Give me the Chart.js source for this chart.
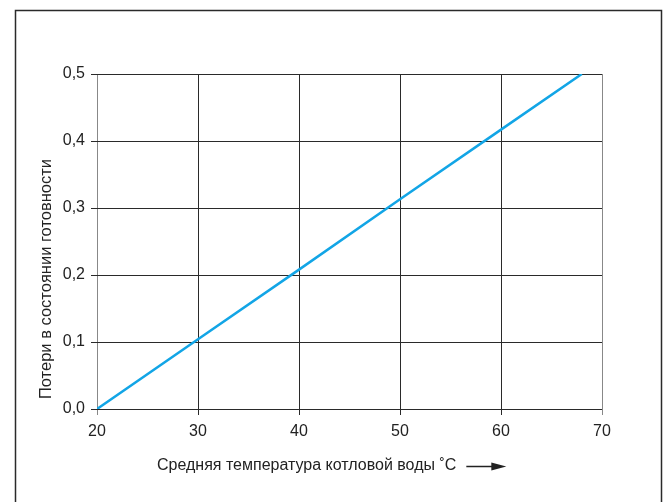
<!DOCTYPE html>
<html><head><meta charset="utf-8">
<script src="https://cdn.jsdelivr.net/npm/chart.js@4/dist/chart.umd.min.js"></script>
<style>html,body{margin:0;padding:0;background:#fff}#wrap{width:665px;height:502px}</style>
</head><body><div id="wrap"><canvas id="c" width="665" height="502"></canvas></div>
<script>
const temperatures = [20, 30, 40, 50, 60, 68];
const losses = [0, 0.104, 0.208, 0.313, 0.417, 0.5];
const xTicks = [20, 30, 40, 50, 60, 70];
const yTicks = [0, 0.1, 0.2, 0.3, 0.4, 0.5];
const xTitle = 'Средняя температура котловой воды ˚C';
const yTitle = 'Потери в состоянии готовности';

const FONT = '"Liberation Sans", Arial, Helvetica, sans-serif';

const decor = {
  id: 'decor',
  beforeDraw(chart) {
    const ctx = chart.ctx;
    ctx.save();
    ctx.fillStyle = '#fff';
    ctx.fillRect(0, 0, chart.width, chart.height);
    ctx.strokeStyle = '#2a2a2a';
    ctx.lineWidth = 1.5;
    ctx.beginPath();
    ctx.moveTo(15.5, 510);
    ctx.lineTo(15.5, 10.5);
    ctx.lineTo(661.5, 10.5);
    ctx.lineTo(661.5, 510);
    ctx.stroke();
    ctx.restore();
  },
  afterDraw(chart) {
    const ctx = chart.ctx;
    ctx.save();
    ctx.fillStyle = '#222';
    ctx.font = '16px ' + FONT;
    ctx.textBaseline = 'middle';
    ctx.textAlign = 'left';
    const tx = 157, ty = 466;
    ctx.fillText(xTitle, tx, ty);
    const w = ctx.measureText(xTitle).width;
    const ax = tx + w + 10;
    ctx.strokeStyle = '#222';
    ctx.lineWidth = 1.5;
    ctx.beginPath();
    ctx.moveTo(ax, ty + 0.5);
    ctx.lineTo(ax + 32, ty + 0.5);
    ctx.stroke();
    ctx.beginPath();
    ctx.moveTo(ax + 25, ty - 3.5);
    ctx.lineTo(ax + 40, ty + 0.5);
    ctx.lineTo(ax + 25, ty + 4.5);
    ctx.closePath();
    ctx.fill();
    ctx.font = '16.5px ' + FONT;
    ctx.translate(46, 279);
    ctx.rotate(-Math.PI / 2);
    ctx.textAlign = 'center';
    ctx.fillText(yTitle, 0, 0);
    ctx.restore();
  }
};

new Chart(document.getElementById('c'), {
  type: 'line',
  data: {
    datasets: [{
      data: temperatures.map((t, i) => ({ x: t, y: losses[i] })),
      borderColor: '#12a5e6',
      borderWidth: 2.5,
      pointRadius: 0,
      tension: 0,
      fill: false
    }]
  },
  options: {
    responsive: false,
    animation: false,
    devicePixelRatio: 1,
    layout: { padding: { top: 74, right: 63, left: 0, bottom: 0 } },
    plugins: { legend: { display: false }, tooltip: { enabled: false } },
    scales: {
      x: {
        type: 'linear', min: 20, max: 70,
        afterFit(s) { s.height = 93; },
        afterBuildTicks(s) { s.ticks = xTicks.map(v => ({ value: v })); },
        grid: {
          color: c => (c.index === 0 || c.index === xTicks.length - 1) ? '#888' : '#2a2a2a',
          lineWidth: 1, drawTicks: true, tickLength: 6
        },
        border: { display: false },
        ticks: { color: '#222', font: { family: FONT, size: 16 }, padding: 7, maxRotation: 0,
          callback: v => String(v) }
      },
      y: {
        type: 'linear', min: 0, max: 0.5,
        afterFit(s) { s.width = 97; },
        afterBuildTicks(s) { s.ticks = yTicks.map(v => ({ value: v })); },
        grid: { color: '#2a2a2a', lineWidth: 1, drawTicks: true, tickLength: 6 },
        border: { display: false },
        ticks: { color: '#222', font: { family: FONT, size: 16 }, padding: 6,
          callback: v => v.toFixed(1).replace('.', ',') }
      }
    }
  },
  plugins: [decor]
});
</script></body></html>
